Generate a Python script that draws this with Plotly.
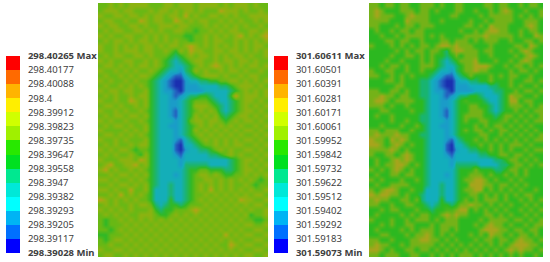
import plotly.graph_objects as go

W, H = 550, 262

left_ticks = [298.39028, 298.39117, 298.39205, 298.39293, 298.39382, 298.3947, 298.39558, 298.39647,
              298.39735, 298.39823, 298.39912, 298.4, 298.40088, 298.40177, 298.40265]
right_ticks = [301.59073, 301.59183, 301.59292, 301.59402, 301.59512, 301.59622, 301.59732, 301.59842,
               301.59952, 301.60061, 301.60171, 301.60281, 301.60391, 301.60501, 301.60611]

# legend bands, bottom to top
band_colors = ["#0000ff", "#0070ff", "#00b4f4", "#00ffff", "#00e8d8", "#00e890", "#00e020",
               "#28e800", "#a0f000", "#d0ff00", "#ffee00", "#ffb400", "#ff6a00", "#ff0000"]

# colours the fields show in the picture, one per level of the rows below
left_colors = ["#1a2fb0", "#2460c0", "#1a9cc8", "#14aeb8", "#1cb470", "#30b826",
               "#68b814", "#8cb210", "#b8a018"]
right_colors = ["#1a2fb0", "#2460c0", "#1a9cc8", "#12aebc", "#18b470", "#2cb820",
                "#4ab61c", "#74b218", "#a8a41c"]

# field on a coarse grid, top row first, digit = level
left_rows = [
    "6676767777 6667767776 7777676777 6766",
    "6777677666 7677676776 7666877767 6676",
    "7667767767 6776776867 6677676766 7777",
    "6776676687 6776687676 7766767676 6767",
    "7677667767 6677767766 6767676767 6676",
    "6767766776 7676677665 6676767766 7767",
    "7676677667 6767666556 6767676786 7678",
    "6767767677 6767676656 6767766767 6767",
    "7667676767 7676776787 6767676767 6776",
    "7667677767 7667657687 7667767767 6767",
    "6767766776 7666545676 7767676776 7667",
    "7676677667 6765434567 7667677677 6766",
    "6776767677 6765433456 7678767676 7767",
    "7667676766 7654332457 6766767767 6676",
    "6766767677 6543211345 6777676676 7766",
    "7676676766 5432100233 4455667767 6767",
    "6766767676 5432100222 3333445677 7676",
    "7677677667 5432210222 2333334567 6767",
    "6767667677 5433212344 5543335867 7767",
    "7667668767 5433223456 6654334567 7676",
    "6776766767 5433223457 7765434567 6767",
    "7667676676 5433213456 7676434567 7676",
    "6767767767 5433213457 6767545677 6767",
    "7676676676 5433323467 7677656767 7676",
    "6767767667 5433223456 7676767676 6767",
    "7666676767 5433323457 6767676767 7676",
    "6776767676 5433323456 7676767676 6767",
    "7667676667 5433321345 6767676767 7676",
    "6767667677 5433310334 5667676776 6767",
    "7676776566 5433310233 4456767667 7676",
    "6767667657 5433321333 3344567676 6767",
    "7666777687 5433332333 3333334567 7676",
    "6786677867 5433332444 4433334567 6767",
    "7867667676 5433333455 6655544567 7676",
    "6676776767 5433323456 7767655667 6767",
    "7767667676 5433333456 6776767676 7656",
    "6676776767 5433433456 7676767667 6566",
    "7767668667 5333433456 7686767676 7667",
    "6676867676 5333433456 6767676767 6776",
    "8767676766 5333533456 7676767687 7667",
    "6767667677 6434554566 6767676767 6776",
    "7676767666 7545566678 7676767676 7667",
    "6767676677 7655676767 6767676767 5667",
    "6566767676 7676767676 7676767676 6556",
    "6566676767 6767676767 6767676767 7667",
    "6656767676 7676767676 7676767676 6776",
    "5566676767 6767676767 6767686767 7667",
    "6567767676 7676767676 7676767676 6776",
    "6676676767 6767676767 6767668767 7667",
    "7667767676 7676767676 7676767676 6776",
    "6776676767 6767676767 6767676767 7667",
]
right_rows = [
    "7757757755 7775755775 5557757755 75775",
    "7875557775 7757555775 5755757875 57557",
    "7877755787 7755557755 5575777775 75757",
    "7777555877 7755755555 7557577775 57775",
    "7755575775 7775555557 7575877755 57875",
    "5755757757 7555555575 5757887755 75775",
    "5575575777 7575755557 7778777775 75587",
    "5557757755 7555775777 5757775575 57757",
    "7555757575 7757887877 7555755557 75875",
    "5555575757 7577547887 7757755575 78755",
    "5555755775 7575545757 7755755557 57875",
    "5557557555 7575434577 7855575575 78755",
    "5575775755 7775433457 7888755757 75757",
    "7557755755 7554332457 7877555575 77575",
    "7755757575 5543211345 7555757577 55755",
    "5557757555 4432100233 4455755575 57757",
    "5555577555 4432100222 3333445575 75575",
    "7755775755 4432210222 2333344557 57757",
    "7787757755 4433212344 5543334587 75575",
    "7887577775 5433223456 5554334588 57755",
    "7775755755 5433223455 7755434577 75757",
    "5577555575 5433213455 7775434557 57577",
    "5755755555 4433213457 7775545775 75757",
    "5555755755 4433323457 5577556757 57577",
    "5575557557 5433223455 5757577575 75755",
    "7757775575 5433323457 5775757757 57575",
    "7877787755 4433323455 5577557575 75757",
    "8775878755 5433321345 5757575757 57577",
    "8875787575 5433310334 5575757577 75755",
    "7777875755 5433310233 4455757575 57577",
    "7557757875 5433321333 3344557757 75755",
    "5755787875 5433332333 3333344577 57575",
    "5757788757 5433332444 4433334457 75757",
    "7575787575 5433333455 5755544577 57555",
    "5755775775 5433323455 7775755757 57555",
    "7575557557 5433333457 7887575575 75555",
    "5755777755 5433433455 8887757757 57555",
    "7578875575 5333433457 7885757575 75575",
    "8788775755 4333433455 7757575757 57755",
    "7877557757 4333533457 5757775755 75757",
    "7755755775 5434554577 8775757575 57575",
    "5575775557 5545566788 5757575755 75757",
    "5755557575 7755787877 5557757575 57575",
    "7555755757 7757577755 5575777757 75757",
    "5575755775 5575777755 5757877575 57577",
    "5755557575 7775775755 5578887757 75775",
    "5577555757 7875757555 7575877575 77575",
    "7755755577 8877575755 5757757757 87757",
    "7877557577 7775757575 7575757578 88775",
    "8875755775 7757575757 5757575787 87757",
    "7757775577 5575757577 7575757575 75575",
]


def rows_to_z(rows, ticks):
    # level 0 sits on the second legend tick
    return [[ticks[int(ch) + 1] for ch in row.replace(" ", "")] for row in rows]


def tick_labels(ticks):
    labels = [f"{t:.5f}".rstrip("0") for t in ticks]
    labels[0] = f"<b>{labels[0]} Min</b>"
    labels[-1] = f"<b>{labels[-1]} Max</b>"
    return labels


def band_scale():
    n = len(band_colors)
    scale = []
    for i, c in enumerate(band_colors):
        scale += [[i / n, c], [(i + 1) / n, c]]
    return scale


def field_scale(colors):
    return [[i / (len(colors) - 1), c] for i, c in enumerate(colors)]


fig = go.Figure()

panels = [
    (left_rows, left_ticks, left_colors, "", "2", (98, 268), (6, 20)),
    (right_rows, right_ticks, right_colors, "3", "4", (369, 543), (274, 288)),
]
axes = {}
for rows, ticks, colors, a, b, map_x, bar_x in panels:
    fig.add_trace(go.Heatmap(z=rows_to_z(rows, ticks), zmin=ticks[1], zmax=ticks[9], colorscale=field_scale(colors),
                             zsmooth="best", showscale=False, hoverinfo="skip",
                             xaxis="x" + a, yaxis="y" + a))
    fig.add_trace(go.Heatmap(z=[[i] for i in range(14)], y=[i + 0.5 for i in range(14)], zmin=0, zmax=14,
                             colorscale=band_scale(), showscale=False, hoverinfo="skip",
                             xaxis="x" + b, yaxis="y" + b))
    axes["xaxis" + a] = dict(domain=[map_x[0] / W, map_x[1] / W], visible=False,
                             range=[-0.5, len(rows[0].replace(" ", "")) - 0.5], anchor="y" + a)
    axes["yaxis" + a] = dict(domain=[1 - 257 / H, 1 - 3 / H], visible=False,
                             range=[len(rows) - 0.5, -0.5], anchor="x" + a)
    axes["xaxis" + b] = dict(domain=[bar_x[0] / W, bar_x[1] / W], visible=False, range=[-0.5, 0.5], anchor="y" + b)
    axes["yaxis" + b] = dict(domain=[1 - 253 / H, 1 - 56 / H], range=[0, 14], side="right", anchor="x" + b,
                             tickmode="array", tickvals=list(range(15)), ticktext=tick_labels(ticks),
                             ticks="outside", ticklen=5, tickcolor="white", showgrid=False, zeroline=False,
                             showline=False, tickfont=dict(family="Noto Sans", size=9.5, color="#404040"))

fig.update_layout(width=W, height=H, margin=dict(l=0, r=0, t=0, b=0, autoexpand=False), paper_bgcolor="white",
                  plot_bgcolor="white", showlegend=False, **axes)

# page has a default 8px body margin, the chart has to sit in the window corner
fig.write_html("out.html", config={"displayModeBar": False}, post_script="document.body.style.margin='0';")
